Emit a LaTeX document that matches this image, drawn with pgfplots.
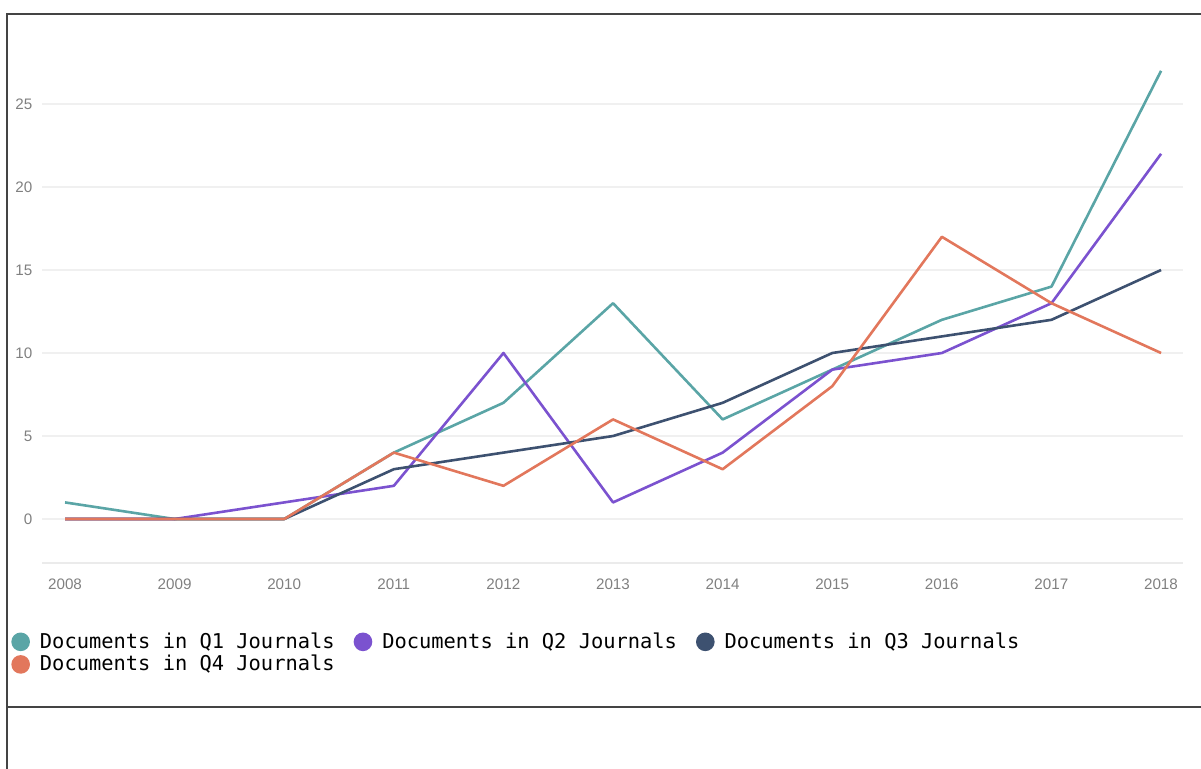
\documentclass[border=0pt]{standalone}
\usepackage{pgfplots}
\pgfplotsset{compat=1.18}
\usepackage{fontspec}
\setmainfont{Liberation Sans}
\newfontfamily\legfont{DejaVu Sans Mono}
\definecolor{cQone}{HTML}{5AA5A6}
\definecolor{cQtwo}{HTML}{7B52CF}
\definecolor{cQthree}{HTML}{3D5170}
\definecolor{cQfour}{HTML}{E2775C}
\definecolor{frame}{HTML}{444444}
\definecolor{ticktext}{HTML}{808080}
\begin{document}
\begin{tikzpicture}
\useasboundingbox (0,0) rectangle (600.5bp,-384.5bp);
\draw[line width=1bp, color=frame] (600.5bp,-7bp) -- (3.6bp,-7bp) -- (3.6bp,-384.5bp);
\draw[line width=1bp, color=frame] (3.6bp,-353.5bp) -- (600.5bp,-353.5bp);
\begin{axis}[
  at={(21bp,-281.5bp)}, anchor=south west,
  scale only axis, width=570.5bp, height=262.7bp,
  xmin=2007.79, xmax=2018.2, ymin=-2.65, ymax=29,
  xtick={2008,2009,...,2018}, ytick={0,5,...,25},
  /pgf/number format/1000 sep={},
  /pgf/number format/assume math mode=true,
  tick label style={font=\fontsize{7.6bp}{9bp}\selectfont, color=ticktext},
  yticklabel style={xshift=-1.3bp},
  xticklabel style={yshift=-4.6bp},
  major tick length=0pt,
  axis line style={draw=none},
  ymajorgrids, major grid style={color=black!6, line width=0.6bp},
  legend columns=3,
  legend cell align=left,
  legend image code/.code={\fill[#1] (4bp,0bp) circle (4bp);},
  legend style={draw=none, fill=none, inner sep=0pt,
    at={(axis description cs:-0.0272,-0.124)}, anchor=north west,
    font=\legfont\fontsize{10.2bp}{12bp}\selectfont,
    /tikz/every even column/.append style={column sep=7.5bp},
    /tikz/every odd column/.append style={column sep=3bp},
    row sep=-2bp},
  every axis plot/.append style={line width=1.3bp, line join=round},
]
\draw[color=black!8, line width=0.6bp] (rel axis cs:0,0) -- (rel axis cs:1,0);
\addplot[color=cQone] coordinates {(2008,1) (2009,0) (2010,0) (2011,4) (2012,7) (2013,13) (2014,6) (2015,9) (2016,12) (2017,14) (2018,27)};
\addlegendentry{Documents in Q1 Journals}
\addplot[color=cQtwo] coordinates {(2008,0) (2009,0) (2010,1) (2011,2) (2012,10) (2013,1) (2014,4) (2015,9) (2016,10) (2017,13) (2018,22)};
\addlegendentry{Documents in Q2 Journals}
\addplot[color=cQthree] coordinates {(2008,0) (2009,0) (2010,0) (2011,3) (2012,4) (2013,5) (2014,7) (2015,10) (2016,11) (2017,12) (2018,15)};
\addlegendentry{Documents in Q3 Journals}
\addplot[color=cQfour] coordinates {(2008,0) (2009,0) (2010,0) (2011,4) (2012,2) (2013,6) (2014,3) (2015,8) (2016,17) (2017,13) (2018,10)};
\addlegendentry{Documents in Q4 Journals}
\end{axis}
\end{tikzpicture}
\end{document}
